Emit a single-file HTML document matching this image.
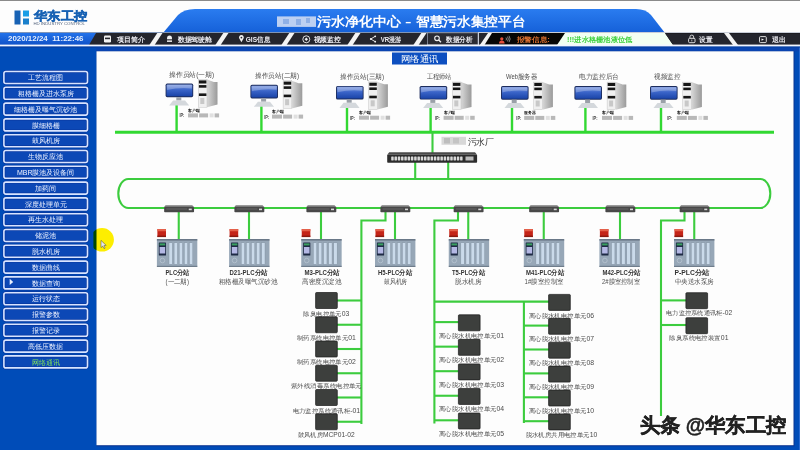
<!DOCTYPE html>
<html><head><meta charset="utf-8">
<style>
*{margin:0;padding:0}
html,body{width:800px;height:450px;overflow:hidden;background:#004cb8}
svg{position:absolute;left:0;top:0;display:block}
text{white-space:pre}
</style></head><body>
<svg width="800" height="450" viewBox="0 0 800 450">
<defs>
<linearGradient id="bang" x1="0" y1="0" x2="0" y2="1"><stop offset="0" stop-color="#2a7cf0"/><stop offset="1" stop-color="#1560d8"/></linearGradient>
<linearGradient id="dg" x1="0" y1="0" x2="0" y2="1"><stop offset="0" stop-color="#2272ea"/><stop offset="1" stop-color="#1052c8"/></linearGradient>
<linearGradient id="mon" x1="0" y1="0" x2="0" y2="1"><stop offset="0" stop-color="#7e9ae0"/><stop offset="0.45" stop-color="#3a64c8"/><stop offset="1" stop-color="#1a44a8"/></linearGradient>
<linearGradient id="tside" x1="0" y1="0" x2="1" y2="0"><stop offset="0" stop-color="#d8d8d8"/><stop offset="1" stop-color="#9a9a9a"/></linearGradient>
<filter id="bl" x="-20%" y="-50%" width="140%" height="200%"><feGaussianBlur stdDeviation="1"/></filter>
<filter id="bl3" x="-50%" y="-50%" width="200%" height="200%"><feGaussianBlur stdDeviation="0.5"/></filter>
<filter id="bl2" x="-20%" y="-50%" width="140%" height="200%"><feGaussianBlur stdDeviation="1.2"/></filter>
</defs>
<rect x="0" y="0" width="800" height="33" fill="#fdfdfd"/><rect x="0" y="0" width="800" height="1" fill="#8a8a8a"/>
<rect x="14.5" y="10.5" width="6" height="14" fill="#1862b4"/><rect x="23" y="10.5" width="6" height="6" fill="#1a9ee6"/><rect x="23" y="18.5" width="6" height="6" fill="#1a80cc"/>
<text x="34.00" y="19.60" font-size="12" fill="#1862b4" font-weight="bold" font-family='"Liberation Sans",sans-serif' textLength="53.00" lengthAdjust="spacingAndGlyphs" stroke="#1862b4" stroke-width="0.5">华东工控</text>
<text x="33.50" y="24.60" font-size="3.6" fill="#50607a" font-family='"Liberation Sans",sans-serif' textLength="51.50" lengthAdjust="spacingAndGlyphs">HD INDUSTRY CONTROL</text>
<path d="M163,33 L178,15 Q184,9 195,9 L636,9 Q646,9 651,15 L665,33 Z" fill="url(#bang)"/>
<rect x="277" y="16.4" width="39" height="10.5" fill="#bcd0f2" filter="url(#bl3)"/><g fill="#8fb0e6" filter="url(#bl3)"><rect x="283" y="19" width="6" height="5"/><rect x="296" y="19" width="5" height="6"/><rect x="306" y="18" width="4" height="5"/></g>
<text x="316.90" y="26.20" font-size="13" fill="#fff" font-weight="bold" font-family='"Liberation Sans",sans-serif' textLength="84.00" lengthAdjust="spacingAndGlyphs">污水净化中心</text>
<text x="405.50" y="26.00" font-size="13" fill="#fff" font-weight="bold" font-family='"Liberation Sans",sans-serif' textLength="5.50" lengthAdjust="spacingAndGlyphs">–</text>
<text x="415.90" y="26.20" font-size="13" fill="#fff" font-weight="bold" font-family='"Liberation Sans",sans-serif' textLength="109.50" lengthAdjust="spacingAndGlyphs">智慧污水集控平台</text>
<rect x="0" y="32" width="800" height="1" fill="#7f95b8"/>
<rect x="0" y="33" width="800" height="12" fill="#24252d"/>
<polygon points="0,33 96,33 89,45 0,45" fill="url(#dg)"/>
<g fill="#f4f4f4">
<polygon points="157.3,33 162.5,33 154.6,45 149.4,45"/><polygon points="223.3,33 228.5,33 220.6,45 215.4,45"/>
<polygon points="289.3,33 294.5,33 286.6,45 281.4,45"/><polygon points="355.3,33 360.5,33 352.6,45 347.4,45"/>
<polygon points="421.3,33 426.5,33 418.6,45 413.4,45"/></g>
<rect x="427.5" y="32.8" width="50.5" height="12" fill="#2a2b33" stroke="#8f96a6" stroke-width="0.8"/>
<rect x="478.5" y="32.5" width="330" height="12.6" fill="#060606" stroke="#c8cdd8" stroke-width="1"/>
<polygon points="479,33 488,33 479.8,45 479,45" fill="#26272e"/><polygon points="488,33 492,33 484.5,45 479.8,45" fill="#f4f4f4"/>
<polygon points="565,33 665,33 673,45 557,45" fill="#f2fff2"/>
<polygon points="665,33.2 800,33.2 800,44.8 673,44.8" fill="#24252d"/>
<polygon points="724,33 729,33 738,45 733,45" fill="#f4f4f4"/>
<rect x="0" y="44.6" width="800" height="2" fill="#f2f6ff"/>
<rect x="0" y="46.6" width="800" height="1" fill="#0a3a9a"/>
<text x="8.00" y="41.30" font-size="8" fill="#e6f0ff" font-weight="bold" font-family='"Liberation Sans",sans-serif' textLength="75.50" lengthAdjust="spacingAndGlyphs">2020/12/24  11:22:46</text>
<text x="116.50" y="41.60" font-size="7" fill="#ececf2" font-weight="bold" font-family='"Liberation Sans",sans-serif' textLength="28.00" lengthAdjust="spacingAndGlyphs">项目简介</text>
<text x="177.60" y="41.60" font-size="7" fill="#ececf2" font-weight="bold" font-family='"Liberation Sans",sans-serif' textLength="34.60" lengthAdjust="spacingAndGlyphs">数据驾驶舱</text>
<text x="245.80" y="41.60" font-size="7" fill="#ececf2" font-weight="bold" font-family='"Liberation Sans",sans-serif' textLength="24.30" lengthAdjust="spacingAndGlyphs">GIS信息</text>
<text x="313.60" y="41.60" font-size="7" fill="#ececf2" font-weight="bold" font-family='"Liberation Sans",sans-serif' textLength="27.20" lengthAdjust="spacingAndGlyphs">视频监控</text>
<text x="380.70" y="41.60" font-size="7" fill="#ececf2" font-weight="bold" font-family='"Liberation Sans",sans-serif' textLength="20.70" lengthAdjust="spacingAndGlyphs">VR漫游</text>
<text x="446.00" y="41.60" font-size="7" fill="#ececf2" font-weight="bold" font-family='"Liberation Sans",sans-serif' textLength="26.40" lengthAdjust="spacingAndGlyphs">数据分析</text>
<text x="516.50" y="41.60" font-size="7" fill="#d86e30" font-weight="bold" font-family='"Liberation Sans",sans-serif' textLength="33.30" lengthAdjust="spacingAndGlyphs">报警信息:</text>
<text x="567.00" y="41.60" font-size="7" fill="#3ed23e" font-weight="bold" font-family='"Liberation Sans",sans-serif' textLength="65.50" lengthAdjust="spacingAndGlyphs">!!!进水格栅池液位低</text>
<text x="699.20" y="41.60" font-size="7" fill="#ececf2" font-weight="bold" font-family='"Liberation Sans",sans-serif' textLength="13.30" lengthAdjust="spacingAndGlyphs">设置</text>
<text x="772.00" y="41.60" font-size="7" fill="#ececf2" font-weight="bold" font-family='"Liberation Sans",sans-serif' textLength="13.80" lengthAdjust="spacingAndGlyphs">退出</text>
<g fill="#f2f2f2">
<rect x="104" y="35.5" width="7" height="7" rx="1.2"/><rect x="105" y="37.6" width="5" height="1.6" fill="#24252d"/>
<path d="M167,42 L167,38.5 Q167,35.4 169.5,35.4 Q172,35.4 172,38.5 L172,42 Z"/><rect x="167" y="39" width="5" height="0.7" fill="#24252d"/><rect x="167" y="40.6" width="5" height="0.5" fill="#24252d"/>
<path d="M241.4,42.2 L239.3,38.6 A2.4,2.4 0 1 1 243.5,38.6 Z"/><circle cx="241.4" cy="37.6" r="0.9" fill="#24252d"/>
<circle cx="306.3" cy="39.3" r="3.5" fill="none" stroke="#f2f2f2" stroke-width="0.9"/><path d="M306.3,37.6 L308,39.3 L306.3,41 L304.6,39.3 Z"/>
<polyline points="375.2,36.3 370.8,39 375.2,41.7" fill="none" stroke="#f2f2f2" stroke-width="0.9"/><circle cx="375.2" cy="36.3" r="0.9"/><circle cx="370.8" cy="39" r="0.9"/><circle cx="375.2" cy="41.7" r="0.9"/>
<circle cx="437" cy="38.3" r="2.3" fill="none" stroke="#f2f2f2" stroke-width="1.1"/><line x1="438.7" y1="40" x2="441" y2="42.3" stroke="#f2f2f2" stroke-width="1.3"/>
<rect x="688.6" y="38.3" width="6.4" height="4.4" rx="1" fill="none" stroke="#f2f2f2" stroke-width="0.9"/><path d="M689.9,38.3 L689.9,37 A1.9,1.9 0 0 1 693.7,37 L693.7,38.3" fill="none" stroke="#f2f2f2" stroke-width="0.8"/><rect x="691.5" y="39.6" width="0.7" height="1.8"/>
<rect x="759.5" y="36.6" width="6.8" height="6" rx="1" fill="none" stroke="#f2f2f2" stroke-width="0.9"/><path d="M761.5,38.4 L764,39.6 L761.5,40.8 Z"/>
</g>
<circle cx="501.8" cy="38.8" r="1.6" fill="#e4503c"/><path d="M499,43.5 Q499,40.6 501.8,40.6 Q504.6,40.6 504.6,43.5 Z" fill="#e4503c"/>
<g fill="none" stroke="#d8d8d8" stroke-width="0.6"><path d="M506,37.6 Q507,39 506,40.4"/><path d="M507.5,36.6 Q509.2,39 507.5,41.4"/><path d="M509,35.8 Q511.3,39 509,42.2"/></g>
<rect x="3.9" y="71.50" width="83.6" height="12" rx="2" fill="#0c48b6" stroke="#0838a0" stroke-width="3"/>
<rect x="3.9" y="71.50" width="83.6" height="12" rx="2" fill="none" stroke="#d8e4ff" stroke-width="1.6"/>
<text x="28.20" y="80.10" font-size="7" fill="#eef2ff" font-family='"Liberation Sans",sans-serif' textLength="35.00" lengthAdjust="spacingAndGlyphs">工艺流程图</text>
<rect x="3.9" y="87.30" width="83.6" height="12" rx="2" fill="#0c48b6" stroke="#0838a0" stroke-width="3"/>
<rect x="3.9" y="87.30" width="83.6" height="12" rx="2" fill="none" stroke="#d8e4ff" stroke-width="1.6"/>
<text x="17.70" y="95.90" font-size="7" fill="#eef2ff" font-family='"Liberation Sans",sans-serif' textLength="56.00" lengthAdjust="spacingAndGlyphs">粗格栅及进水泵房</text>
<rect x="3.9" y="103.10" width="83.6" height="12" rx="2" fill="#0c48b6" stroke="#0838a0" stroke-width="3"/>
<rect x="3.9" y="103.10" width="83.6" height="12" rx="2" fill="none" stroke="#d8e4ff" stroke-width="1.6"/>
<text x="14.20" y="111.70" font-size="7" fill="#eef2ff" font-family='"Liberation Sans",sans-serif' textLength="63.00" lengthAdjust="spacingAndGlyphs">细格栅及曝气沉砂池</text>
<rect x="3.9" y="118.90" width="83.6" height="12" rx="2" fill="#0c48b6" stroke="#0838a0" stroke-width="3"/>
<rect x="3.9" y="118.90" width="83.6" height="12" rx="2" fill="none" stroke="#d8e4ff" stroke-width="1.6"/>
<text x="31.70" y="127.50" font-size="7" fill="#eef2ff" font-family='"Liberation Sans",sans-serif' textLength="28.00" lengthAdjust="spacingAndGlyphs">膜细格栅</text>
<rect x="3.9" y="134.70" width="83.6" height="12" rx="2" fill="#0c48b6" stroke="#0838a0" stroke-width="3"/>
<rect x="3.9" y="134.70" width="83.6" height="12" rx="2" fill="none" stroke="#d8e4ff" stroke-width="1.6"/>
<text x="31.70" y="143.30" font-size="7" fill="#eef2ff" font-family='"Liberation Sans",sans-serif' textLength="28.00" lengthAdjust="spacingAndGlyphs">鼓风机房</text>
<rect x="3.9" y="150.50" width="83.6" height="12" rx="2" fill="#0c48b6" stroke="#0838a0" stroke-width="3"/>
<rect x="3.9" y="150.50" width="83.6" height="12" rx="2" fill="none" stroke="#d8e4ff" stroke-width="1.6"/>
<text x="28.20" y="159.10" font-size="7" fill="#eef2ff" font-family='"Liberation Sans",sans-serif' textLength="35.00" lengthAdjust="spacingAndGlyphs">生物反应池</text>
<rect x="3.9" y="166.30" width="83.6" height="12" rx="2" fill="#0c48b6" stroke="#0838a0" stroke-width="3"/>
<rect x="3.9" y="166.30" width="83.6" height="12" rx="2" fill="none" stroke="#d8e4ff" stroke-width="1.6"/>
<text x="16.92" y="174.90" font-size="7" fill="#eef2ff" font-family='"Liberation Sans",sans-serif' textLength="57.56" lengthAdjust="spacingAndGlyphs">MBR膜池及设备间</text>
<rect x="3.9" y="182.10" width="83.6" height="12" rx="2" fill="#0c48b6" stroke="#0838a0" stroke-width="3"/>
<rect x="3.9" y="182.10" width="83.6" height="12" rx="2" fill="none" stroke="#d8e4ff" stroke-width="1.6"/>
<text x="35.20" y="190.70" font-size="7" fill="#eef2ff" font-family='"Liberation Sans",sans-serif' textLength="21.00" lengthAdjust="spacingAndGlyphs">加药间</text>
<rect x="3.9" y="197.90" width="83.6" height="12" rx="2" fill="#0c48b6" stroke="#0838a0" stroke-width="3"/>
<rect x="3.9" y="197.90" width="83.6" height="12" rx="2" fill="none" stroke="#d8e4ff" stroke-width="1.6"/>
<text x="24.70" y="206.50" font-size="7" fill="#eef2ff" font-family='"Liberation Sans",sans-serif' textLength="42.00" lengthAdjust="spacingAndGlyphs">深度处理单元</text>
<rect x="3.9" y="213.70" width="83.6" height="12" rx="2" fill="#0c48b6" stroke="#0838a0" stroke-width="3"/>
<rect x="3.9" y="213.70" width="83.6" height="12" rx="2" fill="none" stroke="#d8e4ff" stroke-width="1.6"/>
<text x="28.20" y="222.30" font-size="7" fill="#eef2ff" font-family='"Liberation Sans",sans-serif' textLength="35.00" lengthAdjust="spacingAndGlyphs">再生水处理</text>
<rect x="3.9" y="229.50" width="83.6" height="12" rx="2" fill="#0c48b6" stroke="#0838a0" stroke-width="3"/>
<rect x="3.9" y="229.50" width="83.6" height="12" rx="2" fill="none" stroke="#d8e4ff" stroke-width="1.6"/>
<text x="35.20" y="238.10" font-size="7" fill="#eef2ff" font-family='"Liberation Sans",sans-serif' textLength="21.00" lengthAdjust="spacingAndGlyphs">储泥池</text>
<rect x="3.9" y="245.30" width="83.6" height="12" rx="2" fill="#0c48b6" stroke="#0838a0" stroke-width="3"/>
<rect x="3.9" y="245.30" width="83.6" height="12" rx="2" fill="none" stroke="#d8e4ff" stroke-width="1.6"/>
<text x="31.70" y="253.90" font-size="7" fill="#eef2ff" font-family='"Liberation Sans",sans-serif' textLength="28.00" lengthAdjust="spacingAndGlyphs">脱水机房</text>
<rect x="3.9" y="261.10" width="83.6" height="12" rx="2" fill="#0c48b6" stroke="#0838a0" stroke-width="3"/>
<rect x="3.9" y="261.10" width="83.6" height="12" rx="2" fill="none" stroke="#d8e4ff" stroke-width="1.6"/>
<text x="31.70" y="269.70" font-size="7" fill="#eef2ff" font-family='"Liberation Sans",sans-serif' textLength="28.00" lengthAdjust="spacingAndGlyphs">数据曲线</text>
<rect x="3.9" y="276.90" width="83.6" height="12" rx="2" fill="#0c48b6" stroke="#0838a0" stroke-width="3"/>
<rect x="3.9" y="276.90" width="83.6" height="12" rx="2" fill="none" stroke="#d8e4ff" stroke-width="1.6"/>
<text x="31.70" y="285.50" font-size="7" fill="#eef2ff" font-family='"Liberation Sans",sans-serif' textLength="28.00" lengthAdjust="spacingAndGlyphs">数据查询</text>
<rect x="3.9" y="292.70" width="83.6" height="12" rx="2" fill="#0c48b6" stroke="#0838a0" stroke-width="3"/>
<rect x="3.9" y="292.70" width="83.6" height="12" rx="2" fill="none" stroke="#d8e4ff" stroke-width="1.6"/>
<text x="31.70" y="301.30" font-size="7" fill="#eef2ff" font-family='"Liberation Sans",sans-serif' textLength="28.00" lengthAdjust="spacingAndGlyphs">运行状态</text>
<rect x="3.9" y="308.50" width="83.6" height="12" rx="2" fill="#0c48b6" stroke="#0838a0" stroke-width="3"/>
<rect x="3.9" y="308.50" width="83.6" height="12" rx="2" fill="none" stroke="#d8e4ff" stroke-width="1.6"/>
<text x="31.70" y="317.10" font-size="7" fill="#eef2ff" font-family='"Liberation Sans",sans-serif' textLength="28.00" lengthAdjust="spacingAndGlyphs">报警参数</text>
<rect x="3.9" y="324.30" width="83.6" height="12" rx="2" fill="#0c48b6" stroke="#0838a0" stroke-width="3"/>
<rect x="3.9" y="324.30" width="83.6" height="12" rx="2" fill="none" stroke="#d8e4ff" stroke-width="1.6"/>
<text x="31.70" y="332.90" font-size="7" fill="#eef2ff" font-family='"Liberation Sans",sans-serif' textLength="28.00" lengthAdjust="spacingAndGlyphs">报警记录</text>
<rect x="3.9" y="340.10" width="83.6" height="12" rx="2" fill="#0c48b6" stroke="#0838a0" stroke-width="3"/>
<rect x="3.9" y="340.10" width="83.6" height="12" rx="2" fill="none" stroke="#d8e4ff" stroke-width="1.6"/>
<text x="28.20" y="348.70" font-size="7" fill="#eef2ff" font-family='"Liberation Sans",sans-serif' textLength="35.00" lengthAdjust="spacingAndGlyphs">高低压数据</text>
<rect x="3.9" y="355.90" width="83.6" height="12" rx="2" fill="#0c48b6" stroke="#0838a0" stroke-width="3"/>
<rect x="3.9" y="355.90" width="83.6" height="12" rx="2" fill="none" stroke="#d8e4ff" stroke-width="1.6"/>
<text x="31.70" y="364.50" font-size="7" fill="#80e05a" font-family='"Liberation Sans",sans-serif' textLength="28.00" lengthAdjust="spacingAndGlyphs">网络通讯</text>
<polygon points="9.7,278.8 13.2,281.9 9.7,285" fill="#e8f0ff"/>
<rect x="96" y="47.6" width="704" height="3.8" fill="#0a44b0"/>
<rect x="96.5" y="51.3" width="698" height="395" fill="#0a3490"/>
<rect x="799" y="47.6" width="1" height="402.4" fill="#2a6ad0"/>
<rect x="96.5" y="51.3" width="697" height="393.9" fill="#fdfdfd"/>
<rect x="392" y="52.5" width="55" height="12" fill="#0d4fc0"/>
<text x="400.75" y="62.00" font-size="9.2" fill="#fff" font-family='"Liberation Sans",sans-serif' textLength="37.50" lengthAdjust="spacingAndGlyphs">网络通讯</text>
<g stroke="#32d832" stroke-width="3" fill="none">
<line x1="115" y1="132.2" x2="774" y2="132.2"/>
<line x1="176.6" y1="105" x2="176.6" y2="132" stroke-width="2.4"/>
<line x1="261.4" y1="105" x2="261.4" y2="132" stroke-width="2.4"/>
<line x1="347" y1="105" x2="347" y2="132" stroke-width="2.4"/>
<line x1="430.6" y1="105" x2="430.6" y2="132" stroke-width="2.4"/>
<line x1="512" y1="105" x2="512" y2="132" stroke-width="2.4"/>
<line x1="585.4" y1="105" x2="585.4" y2="132" stroke-width="2.4"/>
<line x1="661" y1="105" x2="661" y2="132" stroke-width="2.4"/>
</g>
<g stroke="#3ccc3e" stroke-width="2.1" fill="none">
<line x1="432.5" y1="132" x2="432.5" y2="153"/>
<line x1="415.2" y1="162" x2="415.2" y2="179"/><line x1="448.2" y1="162" x2="448.2" y2="179"/>
<path d="M128.3,179 L760.3,179 A10,14.5 0 0 1 760.3,208 L128.3,208 A10,14.5 0 0 1 128.3,179 Z" stroke-width="2.1"/>
<line x1="178.75" y1="210" x2="178.75" y2="239"/>
<line x1="249" y1="210" x2="249" y2="239"/>
<line x1="321" y1="210" x2="321" y2="239"/>
<line x1="395" y1="210" x2="395" y2="239"/>
<line x1="468.25" y1="210" x2="468.25" y2="239"/>
<line x1="543.75" y1="210" x2="543.75" y2="239"/>
<line x1="620" y1="210" x2="620" y2="239"/>
<line x1="694.25" y1="210" x2="694.25" y2="239"/>
<polyline points="385.5,210 385.5,220.5 361.4,220.5 361.4,424"/>
<polyline points="458,210 458,220.5 434.4,220.5 434.4,423.5"/>
<polyline points="684.5,210 684.5,220.5 661,220.5 661,416"/>
<polyline points="434.4,301.6 549,301.6"/><line x1="523.9" y1="301.6" x2="523.9" y2="423"/>
<line x1="337" y1="300.50" x2="361.4" y2="300.50"/>
<line x1="337" y1="324.75" x2="361.4" y2="324.75"/>
<line x1="337" y1="349.00" x2="361.4" y2="349.00"/>
<line x1="337" y1="373.25" x2="361.4" y2="373.25"/>
<line x1="337" y1="397.50" x2="361.4" y2="397.50"/>
<line x1="337" y1="421.75" x2="361.4" y2="421.75"/>
<line x1="434.4" y1="322.10" x2="458.5" y2="322.10"/>
<line x1="434.4" y1="346.65" x2="458.5" y2="346.65"/>
<line x1="434.4" y1="371.20" x2="458.5" y2="371.20"/>
<line x1="434.4" y1="395.75" x2="458.5" y2="395.75"/>
<line x1="434.4" y1="420.30" x2="458.5" y2="420.30"/>
<line x1="523.9" y1="325.60" x2="549" y2="325.60"/>
<line x1="523.9" y1="349.50" x2="549" y2="349.50"/>
<line x1="523.9" y1="373.40" x2="549" y2="373.40"/>
<line x1="523.9" y1="397.30" x2="549" y2="397.30"/>
<line x1="523.9" y1="421.20" x2="549" y2="421.20"/>
<line x1="661" y1="300.4" x2="686" y2="300.4"/><line x1="661" y1="325" x2="686" y2="325"/>
</g>
<text x="169.00" y="76.60" font-size="6.5" fill="#4a4a4a" font-family='"Liberation Sans",sans-serif' textLength="45.00" lengthAdjust="spacingAndGlyphs">操作员站(一期)</text>
<g transform="translate(0,0)">
<rect x="165.6" y="83.6" width="27.6" height="13.6" rx="1.6" fill="#1c2c5c"/>
<rect x="166.5" y="84.5" width="25.8" height="11.8" rx="1" fill="url(#mon)"/>
<path d="M167.1,90 Q179.6,87 191.79999999999998,88.5 L191.79999999999998,85 L167.1,85 Z" fill="#fff" opacity="0.25"/>
<rect x="176.29999999999998" y="97.2" width="5" height="3.3" fill="#9aa0a8"/>
<polygon points="173.1,100.5 185.1,100.5 189.2,105.6 169.1,105.6" fill="#d4d8dc"/>
<polygon points="206.99999999999997,79.6 213.79999999999998,82 217.49999999999997,82 217.49999999999997,104.5 206.99999999999997,107.2" fill="url(#tside)"/>
<rect x="198.29999999999998" y="79.6" width="8.7" height="27.6" fill="#f0f0f0" stroke="#b8b8b8" stroke-width="0.4"/>
<rect x="198.89999999999998" y="80.4" width="7.5" height="3.1" fill="#161616"/>
<rect x="198.89999999999998" y="85.1" width="7.5" height="2.6" fill="#161616"/>
<rect x="198.89999999999998" y="93.4" width="7.5" height="2.6" fill="#161616"/>
<rect x="200.29999999999998" y="98" width="4" height="6" fill="#c8c8c8"/>
<text x="188.20" y="111.80" font-size="3.6" fill="#111" font-weight="bold" font-family='"Liberation Sans",sans-serif' textLength="11.50" lengthAdjust="spacingAndGlyphs">客户端</text>
<text x="179.40" y="117.40" font-size="4.6" fill="#444" font-weight="bold" font-family='"Liberation Sans",sans-serif' textLength="5.00" lengthAdjust="spacingAndGlyphs">IP:</text>
<g filter="url(#bl3)" fill="#b8b8b8"><rect x="188.0" y="113.4" width="10" height="4"/><rect x="199.1" y="113.4" width="9" height="4"/><rect x="209.6" y="113.4" width="4" height="4" fill="#e0e0e0"/><rect x="214.6" y="113.4" width="4.5" height="4"/></g>
</g>
<text x="255.00" y="77.80" font-size="6.5" fill="#4a4a4a" font-family='"Liberation Sans",sans-serif' textLength="44.00" lengthAdjust="spacingAndGlyphs">操作员站(二期)</text>
<g transform="translate(0,1.2)">
<rect x="250.39999999999998" y="83.6" width="27.6" height="13.6" rx="1.6" fill="#1c2c5c"/>
<rect x="251.29999999999998" y="84.5" width="25.8" height="11.8" rx="1" fill="url(#mon)"/>
<path d="M251.89999999999998,90 Q264.4,87 276.59999999999997,88.5 L276.59999999999997,85 L251.89999999999998,85 Z" fill="#fff" opacity="0.25"/>
<rect x="261.09999999999997" y="97.2" width="5" height="3.3" fill="#9aa0a8"/>
<polygon points="257.9,100.5 269.9,100.5 274.0,105.6 253.89999999999998,105.6" fill="#d4d8dc"/>
<polygon points="291.79999999999995,79.6 298.59999999999997,82 302.29999999999995,82 302.29999999999995,104.5 291.79999999999995,107.2" fill="url(#tside)"/>
<rect x="283.09999999999997" y="79.6" width="8.7" height="27.6" fill="#f0f0f0" stroke="#b8b8b8" stroke-width="0.4"/>
<rect x="283.7" y="80.4" width="7.5" height="3.1" fill="#161616"/>
<rect x="283.7" y="85.1" width="7.5" height="2.6" fill="#161616"/>
<rect x="283.7" y="93.4" width="7.5" height="2.6" fill="#161616"/>
<rect x="285.09999999999997" y="98" width="4" height="6" fill="#c8c8c8"/>
<text x="272.20" y="111.80" font-size="3.6" fill="#111" font-weight="bold" font-family='"Liberation Sans",sans-serif' textLength="11.50" lengthAdjust="spacingAndGlyphs">客户端</text>
<text x="264.20" y="117.40" font-size="4.6" fill="#444" font-weight="bold" font-family='"Liberation Sans",sans-serif' textLength="5.00" lengthAdjust="spacingAndGlyphs">IP:</text>
<g filter="url(#bl3)" fill="#b8b8b8"><rect x="272.0" y="113.4" width="10" height="4"/><rect x="283.1" y="113.4" width="9" height="4"/><rect x="293.6" y="113.4" width="4" height="4" fill="#e0e0e0"/><rect x="298.6" y="113.4" width="4.5" height="4"/></g>
</g>
<text x="340.00" y="78.90" font-size="6.5" fill="#4a4a4a" font-family='"Liberation Sans",sans-serif' textLength="44.00" lengthAdjust="spacingAndGlyphs">操作员站(三期)</text>
<g transform="translate(0,2.3)">
<rect x="336" y="83.6" width="27.6" height="13.6" rx="1.6" fill="#1c2c5c"/>
<rect x="336.9" y="84.5" width="25.8" height="11.8" rx="1" fill="url(#mon)"/>
<path d="M337.5,90 Q350,87 362.2,88.5 L362.2,85 L337.5,85 Z" fill="#fff" opacity="0.25"/>
<rect x="346.7" y="97.2" width="5" height="3.3" fill="#9aa0a8"/>
<polygon points="343.5,100.5 355.5,100.5 359.6,105.6 339.5,105.6" fill="#d4d8dc"/>
<polygon points="377.4,79.6 384.2,82 387.9,82 387.9,104.5 377.4,107.2" fill="url(#tside)"/>
<rect x="368.7" y="79.6" width="8.7" height="27.6" fill="#f0f0f0" stroke="#b8b8b8" stroke-width="0.4"/>
<rect x="369.3" y="80.4" width="7.5" height="3.1" fill="#161616"/>
<rect x="369.3" y="85.1" width="7.5" height="2.6" fill="#161616"/>
<rect x="369.3" y="93.4" width="7.5" height="2.6" fill="#161616"/>
<rect x="370.7" y="98" width="4" height="6" fill="#c8c8c8"/>
<text x="359.20" y="111.80" font-size="3.6" fill="#111" font-weight="bold" font-family='"Liberation Sans",sans-serif' textLength="11.50" lengthAdjust="spacingAndGlyphs">客户端</text>
<text x="350.00" y="117.40" font-size="4.6" fill="#444" font-weight="bold" font-family='"Liberation Sans",sans-serif' textLength="5.00" lengthAdjust="spacingAndGlyphs">IP:</text>
<g filter="url(#bl3)" fill="#b8b8b8"><rect x="359" y="113.4" width="10" height="4"/><rect x="370.1" y="113.4" width="9" height="4"/><rect x="380.6" y="113.4" width="4" height="4" fill="#e0e0e0"/><rect x="385.6" y="113.4" width="4.5" height="4"/></g>
</g>
<text x="426.50" y="79.00" font-size="6.5" fill="#4a4a4a" font-family='"Liberation Sans",sans-serif' textLength="24.50" lengthAdjust="spacingAndGlyphs">工程师站</text>
<g transform="translate(0,2.4)">
<rect x="419.6" y="83.6" width="27.6" height="13.6" rx="1.6" fill="#1c2c5c"/>
<rect x="420.5" y="84.5" width="25.8" height="11.8" rx="1" fill="url(#mon)"/>
<path d="M421.1,90 Q433.6,87 445.8,88.5 L445.8,85 L421.1,85 Z" fill="#fff" opacity="0.25"/>
<rect x="430.3" y="97.2" width="5" height="3.3" fill="#9aa0a8"/>
<polygon points="427.1,100.5 439.1,100.5 443.20000000000005,105.6 423.1,105.6" fill="#d4d8dc"/>
<polygon points="461.0,79.6 467.8,82 471.5,82 471.5,104.5 461.0,107.2" fill="url(#tside)"/>
<rect x="452.3" y="79.6" width="8.7" height="27.6" fill="#f0f0f0" stroke="#b8b8b8" stroke-width="0.4"/>
<rect x="452.90000000000003" y="80.4" width="7.5" height="3.1" fill="#161616"/>
<rect x="452.90000000000003" y="85.1" width="7.5" height="2.6" fill="#161616"/>
<rect x="452.90000000000003" y="93.4" width="7.5" height="2.6" fill="#161616"/>
<rect x="454.3" y="98" width="4" height="6" fill="#c8c8c8"/>
<text x="443.80" y="111.80" font-size="3.6" fill="#111" font-weight="bold" font-family='"Liberation Sans",sans-serif' textLength="11.50" lengthAdjust="spacingAndGlyphs">客户端</text>
<text x="434.90" y="117.40" font-size="4.6" fill="#444" font-weight="bold" font-family='"Liberation Sans",sans-serif' textLength="5.00" lengthAdjust="spacingAndGlyphs">IP:</text>
<g filter="url(#bl3)" fill="#b8b8b8"><rect x="443.6" y="113.4" width="10" height="4"/><rect x="454.70000000000005" y="113.4" width="9" height="4"/><rect x="465.20000000000005" y="113.4" width="4" height="4" fill="#e0e0e0"/><rect x="470.20000000000005" y="113.4" width="4.5" height="4"/></g>
</g>
<text x="506.00" y="79.10" font-size="6.5" fill="#4a4a4a" font-family='"Liberation Sans",sans-serif' textLength="31.00" lengthAdjust="spacingAndGlyphs">Web服务器</text>
<g transform="translate(0,2.5)">
<rect x="501" y="83.6" width="27.6" height="13.6" rx="1.6" fill="#1c2c5c"/>
<rect x="501.9" y="84.5" width="25.8" height="11.8" rx="1" fill="url(#mon)"/>
<path d="M502.5,90 Q515,87 527.2,88.5 L527.2,85 L502.5,85 Z" fill="#fff" opacity="0.25"/>
<rect x="511.7" y="97.2" width="5" height="3.3" fill="#9aa0a8"/>
<polygon points="508.5,100.5 520.5,100.5 524.6,105.6 504.5,105.6" fill="#d4d8dc"/>
<polygon points="542.4000000000001,79.6 549.2,82 552.9000000000001,82 552.9000000000001,104.5 542.4000000000001,107.2" fill="url(#tside)"/>
<rect x="533.7" y="79.6" width="8.7" height="27.6" fill="#f0f0f0" stroke="#b8b8b8" stroke-width="0.4"/>
<rect x="534.3000000000001" y="80.4" width="7.5" height="3.1" fill="#161616"/>
<rect x="534.3000000000001" y="85.1" width="7.5" height="2.6" fill="#161616"/>
<rect x="534.3000000000001" y="93.4" width="7.5" height="2.6" fill="#161616"/>
<rect x="535.7" y="98" width="4" height="6" fill="#c8c8c8"/>
<text x="524.40" y="111.80" font-size="3.6" fill="#111" font-weight="bold" font-family='"Liberation Sans",sans-serif' textLength="11.50" lengthAdjust="spacingAndGlyphs">服务器</text>
<text x="516.30" y="117.40" font-size="4.6" fill="#444" font-weight="bold" font-family='"Liberation Sans",sans-serif' textLength="5.00" lengthAdjust="spacingAndGlyphs">IP:</text>
<g filter="url(#bl3)" fill="#b8b8b8"><rect x="524.2" y="113.4" width="10" height="4"/><rect x="535.3000000000001" y="113.4" width="9" height="4"/><rect x="545.8000000000001" y="113.4" width="4" height="4" fill="#e0e0e0"/><rect x="550.8000000000001" y="113.4" width="4.5" height="4"/></g>
</g>
<text x="579.00" y="79.10" font-size="6.5" fill="#4a4a4a" font-family='"Liberation Sans",sans-serif' textLength="40.00" lengthAdjust="spacingAndGlyphs">电力监控后台</text>
<g transform="translate(0,2.5)">
<rect x="574.4" y="83.6" width="27.6" height="13.6" rx="1.6" fill="#1c2c5c"/>
<rect x="575.3" y="84.5" width="25.8" height="11.8" rx="1" fill="url(#mon)"/>
<path d="M575.9,90 Q588.4,87 600.6,88.5 L600.6,85 L575.9,85 Z" fill="#fff" opacity="0.25"/>
<rect x="585.1" y="97.2" width="5" height="3.3" fill="#9aa0a8"/>
<polygon points="581.9,100.5 593.9,100.5 598.0,105.6 577.9,105.6" fill="#d4d8dc"/>
<polygon points="615.8000000000001,79.6 622.6,82 626.3000000000001,82 626.3000000000001,104.5 615.8000000000001,107.2" fill="url(#tside)"/>
<rect x="607.1" y="79.6" width="8.7" height="27.6" fill="#f0f0f0" stroke="#b8b8b8" stroke-width="0.4"/>
<rect x="607.7" y="80.4" width="7.5" height="3.1" fill="#161616"/>
<rect x="607.7" y="85.1" width="7.5" height="2.6" fill="#161616"/>
<rect x="607.7" y="93.4" width="7.5" height="2.6" fill="#161616"/>
<rect x="609.1" y="98" width="4" height="6" fill="#c8c8c8"/>
<text x="602.20" y="111.80" font-size="3.6" fill="#111" font-weight="bold" font-family='"Liberation Sans",sans-serif' textLength="11.50" lengthAdjust="spacingAndGlyphs">客户端</text>
<text x="592.50" y="117.40" font-size="4.6" fill="#444" font-weight="bold" font-family='"Liberation Sans",sans-serif' textLength="5.00" lengthAdjust="spacingAndGlyphs">IP:</text>
<g filter="url(#bl3)" fill="#b8b8b8"><rect x="602.0" y="113.4" width="10" height="4"/><rect x="613.1" y="113.4" width="9" height="4"/><rect x="623.6" y="113.4" width="4" height="4" fill="#e0e0e0"/><rect x="628.6" y="113.4" width="4.5" height="4"/></g>
</g>
<text x="654.00" y="79.10" font-size="6.5" fill="#4a4a4a" font-family='"Liberation Sans",sans-serif' textLength="26.00" lengthAdjust="spacingAndGlyphs">视频监控</text>
<g transform="translate(0,2.5)">
<rect x="650" y="83.6" width="27.6" height="13.6" rx="1.6" fill="#1c2c5c"/>
<rect x="650.9" y="84.5" width="25.8" height="11.8" rx="1" fill="url(#mon)"/>
<path d="M651.5,90 Q664,87 676.2,88.5 L676.2,85 L651.5,85 Z" fill="#fff" opacity="0.25"/>
<rect x="660.7" y="97.2" width="5" height="3.3" fill="#9aa0a8"/>
<polygon points="657.5,100.5 669.5,100.5 673.6,105.6 653.5,105.6" fill="#d4d8dc"/>
<polygon points="691.4000000000001,79.6 698.2,82 701.9000000000001,82 701.9000000000001,104.5 691.4000000000001,107.2" fill="url(#tside)"/>
<rect x="682.7" y="79.6" width="8.7" height="27.6" fill="#f0f0f0" stroke="#b8b8b8" stroke-width="0.4"/>
<rect x="683.3000000000001" y="80.4" width="7.5" height="3.1" fill="#161616"/>
<rect x="683.3000000000001" y="85.1" width="7.5" height="2.6" fill="#161616"/>
<rect x="683.3000000000001" y="93.4" width="7.5" height="2.6" fill="#161616"/>
<rect x="684.7" y="98" width="4" height="6" fill="#c8c8c8"/>
<text x="677.00" y="111.80" font-size="3.6" fill="#111" font-weight="bold" font-family='"Liberation Sans",sans-serif' textLength="11.50" lengthAdjust="spacingAndGlyphs">客户端</text>
<text x="667.20" y="117.40" font-size="4.6" fill="#444" font-weight="bold" font-family='"Liberation Sans",sans-serif' textLength="5.00" lengthAdjust="spacingAndGlyphs">IP:</text>
<g filter="url(#bl3)" fill="#b8b8b8"><rect x="676.8" y="113.4" width="10" height="4"/><rect x="687.9" y="113.4" width="9" height="4"/><rect x="698.4" y="113.4" width="4" height="4" fill="#e0e0e0"/><rect x="703.4" y="113.4" width="4.5" height="4"/></g>
</g>
<polygon points="389.2,152.2 475,152.2 477.1,154.8 387.2,154.8" fill="#4a4a4a"/>
<rect x="387.2" y="154.8" width="89.9" height="7.9" rx="0.8" fill="#2c2c2c"/>
<rect x="391.20" y="156.5" width="2.5" height="4" rx="0.4" fill="#d8d8d8"/>
<rect x="394.48" y="156.5" width="2.5" height="4" rx="0.4" fill="#d8d8d8"/>
<rect x="397.76" y="156.5" width="2.5" height="4" rx="0.4" fill="#d8d8d8"/>
<rect x="401.04" y="156.5" width="2.5" height="4" rx="0.4" fill="#d8d8d8"/>
<rect x="404.32" y="156.5" width="2.5" height="4" rx="0.4" fill="#d8d8d8"/>
<rect x="407.60" y="156.5" width="2.5" height="4" rx="0.4" fill="#d8d8d8"/>
<rect x="410.88" y="156.5" width="2.5" height="4" rx="0.4" fill="#d8d8d8"/>
<rect x="414.16" y="156.5" width="2.5" height="4" rx="0.4" fill="#d8d8d8"/>
<rect x="417.44" y="156.5" width="2.5" height="4" rx="0.4" fill="#d8d8d8"/>
<rect x="420.72" y="156.5" width="2.5" height="4" rx="0.4" fill="#d8d8d8"/>
<rect x="424.00" y="156.5" width="2.5" height="4" rx="0.4" fill="#d8d8d8"/>
<rect x="427.28" y="156.5" width="2.5" height="4" rx="0.4" fill="#d8d8d8"/>
<rect x="430.56" y="156.5" width="2.5" height="4" rx="0.4" fill="#d8d8d8"/>
<rect x="433.84" y="156.5" width="2.5" height="4" rx="0.4" fill="#d8d8d8"/>
<rect x="437.12" y="156.5" width="2.5" height="4" rx="0.4" fill="#d8d8d8"/>
<rect x="440.40" y="156.5" width="2.5" height="4" rx="0.4" fill="#d8d8d8"/>
<rect x="443.68" y="156.5" width="2.5" height="4" rx="0.4" fill="#d8d8d8"/>
<rect x="446.96" y="156.5" width="2.5" height="4" rx="0.4" fill="#d8d8d8"/>
<rect x="450.24" y="156.5" width="2.5" height="4" rx="0.4" fill="#d8d8d8"/>
<rect x="453.52" y="156.5" width="2.5" height="4" rx="0.4" fill="#d8d8d8"/>
<rect x="456.80" y="156.5" width="2.5" height="4" rx="0.4" fill="#d8d8d8"/>
<rect x="460.08" y="156.5" width="2.5" height="4" rx="0.4" fill="#d8d8d8"/>
<rect x="465.5" y="156.5" width="8" height="4" fill="#bbb"/>
<g filter="url(#bl3)"><rect x="441.5" y="136.8" width="24.5" height="8" fill="#d8d8d8"/><rect x="444" y="138" width="6" height="5.5" fill="#bdbdbd"/><rect x="453" y="138" width="6" height="5.5" fill="#c4c4c4"/></g>
<text x="467.50" y="144.60" font-size="9" fill="#333" font-family='"Liberation Sans",sans-serif' textLength="26.50" lengthAdjust="spacingAndGlyphs">污水厂</text>
<polygon points="165.55,205.2 192.25,205.2 194.05,207 164.15,207" fill="#7a7a7a"/>
<rect x="164.15" y="207" width="29.9" height="5.2" rx="0.8" fill="#484848"/>
<rect x="166.25" y="208.3" width="21" height="1.4" fill="#5e5e5e"/><rect x="188.75" y="208.6" width="3" height="1.6" fill="#d8d8d8"/>
<polygon points="235.8,205.2 262.5,205.2 264.3,207 234.4,207" fill="#7a7a7a"/>
<rect x="234.4" y="207" width="29.9" height="5.2" rx="0.8" fill="#484848"/>
<rect x="236.5" y="208.3" width="21" height="1.4" fill="#5e5e5e"/><rect x="259" y="208.6" width="3" height="1.6" fill="#d8d8d8"/>
<polygon points="307.8,205.2 334.5,205.2 336.3,207 306.4,207" fill="#7a7a7a"/>
<rect x="306.4" y="207" width="29.9" height="5.2" rx="0.8" fill="#484848"/>
<rect x="308.5" y="208.3" width="21" height="1.4" fill="#5e5e5e"/><rect x="331" y="208.6" width="3" height="1.6" fill="#d8d8d8"/>
<polygon points="381.8,205.2 408.5,205.2 410.3,207 380.4,207" fill="#7a7a7a"/>
<rect x="380.4" y="207" width="29.9" height="5.2" rx="0.8" fill="#484848"/>
<rect x="382.5" y="208.3" width="21" height="1.4" fill="#5e5e5e"/><rect x="405" y="208.6" width="3" height="1.6" fill="#d8d8d8"/>
<polygon points="455.05,205.2 481.75,205.2 483.55,207 453.65,207" fill="#7a7a7a"/>
<rect x="453.65" y="207" width="29.9" height="5.2" rx="0.8" fill="#484848"/>
<rect x="455.75" y="208.3" width="21" height="1.4" fill="#5e5e5e"/><rect x="478.25" y="208.6" width="3" height="1.6" fill="#d8d8d8"/>
<polygon points="530.55,205.2 557.25,205.2 559.05,207 529.15,207" fill="#7a7a7a"/>
<rect x="529.15" y="207" width="29.9" height="5.2" rx="0.8" fill="#484848"/>
<rect x="531.25" y="208.3" width="21" height="1.4" fill="#5e5e5e"/><rect x="553.75" y="208.6" width="3" height="1.6" fill="#d8d8d8"/>
<polygon points="606.8,205.2 633.5,205.2 635.3,207 605.4,207" fill="#7a7a7a"/>
<rect x="605.4" y="207" width="29.9" height="5.2" rx="0.8" fill="#484848"/>
<rect x="607.5" y="208.3" width="21" height="1.4" fill="#5e5e5e"/><rect x="630" y="208.6" width="3" height="1.6" fill="#d8d8d8"/>
<polygon points="681.05,205.2 707.75,205.2 709.55,207 679.65,207" fill="#7a7a7a"/>
<rect x="679.65" y="207" width="29.9" height="5.2" rx="0.8" fill="#484848"/>
<rect x="681.75" y="208.3" width="21" height="1.4" fill="#5e5e5e"/><rect x="704.25" y="208.6" width="3" height="1.6" fill="#d8d8d8"/>
<rect x="157.4" y="228.9" width="8.6" height="8.2" rx="0.6" fill="#c42418"/><rect x="157.4" y="228.9" width="8.6" height="2.4" rx="0.6" fill="#e4604a"/><rect x="157.4" y="235.6" width="8.6" height="1.5" fill="#8a1a10"/>
<rect x="156.9" y="239" width="40.4" height="28" rx="0.8" fill="#97a7b7"/>
<rect x="156.9" y="239" width="40.4" height="1.6" fill="#6a7888"/><rect x="156.9" y="265.8" width="40.4" height="1.2" fill="#6f7d8c"/>
<rect x="158.8" y="242.4" width="7.2" height="13.2" rx="0.5" fill="#1e2a44"/><rect x="159.6" y="243.4" width="5.6" height="2" fill="#3aa060"/><rect x="159.6" y="247" width="5.6" height="6.5" fill="#b4b8e4"/>
<circle cx="162.4" cy="260.5" r="2.3" fill="none" stroke="#b8c4d0" stroke-width="0.8"/>
<rect x="169.00" y="242.8" width="3.4" height="21.5" fill="#cadaea" stroke="#7d8d9d" stroke-width="0.4"/>
<rect x="174.10" y="242.8" width="3.4" height="21.5" fill="#cadaea" stroke="#7d8d9d" stroke-width="0.4"/>
<rect x="179.20" y="242.8" width="3.4" height="21.5" fill="#cadaea" stroke="#7d8d9d" stroke-width="0.4"/>
<rect x="184.30" y="242.8" width="3.4" height="21.5" fill="#cadaea" stroke="#7d8d9d" stroke-width="0.4"/>
<rect x="189.40" y="242.8" width="3.4" height="21.5" fill="#cadaea" stroke="#7d8d9d" stroke-width="0.4"/>
<text x="165.50" y="275.20" font-size="6.5" fill="#333" font-weight="bold" font-family='"Liberation Sans",sans-serif' textLength="24.00" lengthAdjust="spacingAndGlyphs">PLC分站</text>
<text x="165.50" y="284.00" font-size="6.5" fill="#505050" font-family='"Liberation Sans",sans-serif' textLength="23.50" lengthAdjust="spacingAndGlyphs">(一二期)</text>
<rect x="229.6" y="228.9" width="8.6" height="8.2" rx="0.6" fill="#c42418"/><rect x="229.6" y="228.9" width="8.6" height="2.4" rx="0.6" fill="#e4604a"/><rect x="229.6" y="235.6" width="8.6" height="1.5" fill="#8a1a10"/>
<rect x="229.1" y="239" width="40.4" height="28" rx="0.8" fill="#97a7b7"/>
<rect x="229.1" y="239" width="40.4" height="1.6" fill="#6a7888"/><rect x="229.1" y="265.8" width="40.4" height="1.2" fill="#6f7d8c"/>
<rect x="231.0" y="242.4" width="7.2" height="13.2" rx="0.5" fill="#1e2a44"/><rect x="231.79999999999998" y="243.4" width="5.6" height="2" fill="#3aa060"/><rect x="231.79999999999998" y="247" width="5.6" height="6.5" fill="#b4b8e4"/>
<circle cx="234.6" cy="260.5" r="2.3" fill="none" stroke="#b8c4d0" stroke-width="0.8"/>
<rect x="241.20" y="242.8" width="3.4" height="21.5" fill="#cadaea" stroke="#7d8d9d" stroke-width="0.4"/>
<rect x="246.30" y="242.8" width="3.4" height="21.5" fill="#cadaea" stroke="#7d8d9d" stroke-width="0.4"/>
<rect x="251.40" y="242.8" width="3.4" height="21.5" fill="#cadaea" stroke="#7d8d9d" stroke-width="0.4"/>
<rect x="256.50" y="242.8" width="3.4" height="21.5" fill="#cadaea" stroke="#7d8d9d" stroke-width="0.4"/>
<rect x="261.60" y="242.8" width="3.4" height="21.5" fill="#cadaea" stroke="#7d8d9d" stroke-width="0.4"/>
<text x="229.50" y="275.20" font-size="6.5" fill="#333" font-weight="bold" font-family='"Liberation Sans",sans-serif' textLength="38.00" lengthAdjust="spacingAndGlyphs">D21-PLC分站</text>
<text x="218.75" y="284.00" font-size="6.5" fill="#505050" font-family='"Liberation Sans",sans-serif' textLength="58.75" lengthAdjust="spacingAndGlyphs">粗格栅及曝气沉砂池</text>
<rect x="301.75" y="228.9" width="8.6" height="8.2" rx="0.6" fill="#c42418"/><rect x="301.75" y="228.9" width="8.6" height="2.4" rx="0.6" fill="#e4604a"/><rect x="301.75" y="235.6" width="8.6" height="1.5" fill="#8a1a10"/>
<rect x="301.25" y="239" width="40.4" height="28" rx="0.8" fill="#97a7b7"/>
<rect x="301.25" y="239" width="40.4" height="1.6" fill="#6a7888"/><rect x="301.25" y="265.8" width="40.4" height="1.2" fill="#6f7d8c"/>
<rect x="303.15" y="242.4" width="7.2" height="13.2" rx="0.5" fill="#1e2a44"/><rect x="303.95" y="243.4" width="5.6" height="2" fill="#3aa060"/><rect x="303.95" y="247" width="5.6" height="6.5" fill="#b4b8e4"/>
<circle cx="306.75" cy="260.5" r="2.3" fill="none" stroke="#b8c4d0" stroke-width="0.8"/>
<rect x="313.35" y="242.8" width="3.4" height="21.5" fill="#cadaea" stroke="#7d8d9d" stroke-width="0.4"/>
<rect x="318.45" y="242.8" width="3.4" height="21.5" fill="#cadaea" stroke="#7d8d9d" stroke-width="0.4"/>
<rect x="323.55" y="242.8" width="3.4" height="21.5" fill="#cadaea" stroke="#7d8d9d" stroke-width="0.4"/>
<rect x="328.65" y="242.8" width="3.4" height="21.5" fill="#cadaea" stroke="#7d8d9d" stroke-width="0.4"/>
<rect x="333.75" y="242.8" width="3.4" height="21.5" fill="#cadaea" stroke="#7d8d9d" stroke-width="0.4"/>
<text x="304.50" y="275.20" font-size="6.5" fill="#333" font-weight="bold" font-family='"Liberation Sans",sans-serif' textLength="35.50" lengthAdjust="spacingAndGlyphs">M3-PLC分站</text>
<text x="302.00" y="284.00" font-size="6.5" fill="#505050" font-family='"Liberation Sans",sans-serif' textLength="39.25" lengthAdjust="spacingAndGlyphs">高密度沉淀池</text>
<rect x="375.5" y="228.9" width="8.6" height="8.2" rx="0.6" fill="#c42418"/><rect x="375.5" y="228.9" width="8.6" height="2.4" rx="0.6" fill="#e4604a"/><rect x="375.5" y="235.6" width="8.6" height="1.5" fill="#8a1a10"/>
<rect x="375" y="239" width="40.4" height="28" rx="0.8" fill="#97a7b7"/>
<rect x="375" y="239" width="40.4" height="1.6" fill="#6a7888"/><rect x="375" y="265.8" width="40.4" height="1.2" fill="#6f7d8c"/>
<rect x="376.9" y="242.4" width="7.2" height="13.2" rx="0.5" fill="#1e2a44"/><rect x="377.7" y="243.4" width="5.6" height="2" fill="#3aa060"/><rect x="377.7" y="247" width="5.6" height="6.5" fill="#b4b8e4"/>
<circle cx="380.5" cy="260.5" r="2.3" fill="none" stroke="#b8c4d0" stroke-width="0.8"/>
<rect x="387.10" y="242.8" width="3.4" height="21.5" fill="#cadaea" stroke="#7d8d9d" stroke-width="0.4"/>
<rect x="392.20" y="242.8" width="3.4" height="21.5" fill="#cadaea" stroke="#7d8d9d" stroke-width="0.4"/>
<rect x="397.30" y="242.8" width="3.4" height="21.5" fill="#cadaea" stroke="#7d8d9d" stroke-width="0.4"/>
<rect x="402.40" y="242.8" width="3.4" height="21.5" fill="#cadaea" stroke="#7d8d9d" stroke-width="0.4"/>
<rect x="407.50" y="242.8" width="3.4" height="21.5" fill="#cadaea" stroke="#7d8d9d" stroke-width="0.4"/>
<text x="378.00" y="275.20" font-size="6.5" fill="#333" font-weight="bold" font-family='"Liberation Sans",sans-serif' textLength="34.00" lengthAdjust="spacingAndGlyphs">H5-PLC分站</text>
<text x="383.75" y="284.00" font-size="6.5" fill="#505050" font-family='"Liberation Sans",sans-serif' textLength="23.50" lengthAdjust="spacingAndGlyphs">鼓风机房</text>
<rect x="449.25" y="228.9" width="8.6" height="8.2" rx="0.6" fill="#c42418"/><rect x="449.25" y="228.9" width="8.6" height="2.4" rx="0.6" fill="#e4604a"/><rect x="449.25" y="235.6" width="8.6" height="1.5" fill="#8a1a10"/>
<rect x="448.75" y="239" width="40.4" height="28" rx="0.8" fill="#97a7b7"/>
<rect x="448.75" y="239" width="40.4" height="1.6" fill="#6a7888"/><rect x="448.75" y="265.8" width="40.4" height="1.2" fill="#6f7d8c"/>
<rect x="450.65" y="242.4" width="7.2" height="13.2" rx="0.5" fill="#1e2a44"/><rect x="451.45" y="243.4" width="5.6" height="2" fill="#3aa060"/><rect x="451.45" y="247" width="5.6" height="6.5" fill="#b4b8e4"/>
<circle cx="454.25" cy="260.5" r="2.3" fill="none" stroke="#b8c4d0" stroke-width="0.8"/>
<rect x="460.85" y="242.8" width="3.4" height="21.5" fill="#cadaea" stroke="#7d8d9d" stroke-width="0.4"/>
<rect x="465.95" y="242.8" width="3.4" height="21.5" fill="#cadaea" stroke="#7d8d9d" stroke-width="0.4"/>
<rect x="471.05" y="242.8" width="3.4" height="21.5" fill="#cadaea" stroke="#7d8d9d" stroke-width="0.4"/>
<rect x="476.15" y="242.8" width="3.4" height="21.5" fill="#cadaea" stroke="#7d8d9d" stroke-width="0.4"/>
<rect x="481.25" y="242.8" width="3.4" height="21.5" fill="#cadaea" stroke="#7d8d9d" stroke-width="0.4"/>
<text x="452.00" y="275.20" font-size="6.5" fill="#333" font-weight="bold" font-family='"Liberation Sans",sans-serif' textLength="33.00" lengthAdjust="spacingAndGlyphs">T5-PLC分站</text>
<text x="455.00" y="284.00" font-size="6.5" fill="#505050" font-family='"Liberation Sans",sans-serif' textLength="26.25" lengthAdjust="spacingAndGlyphs">脱水机房</text>
<rect x="524.3" y="228.9" width="8.6" height="8.2" rx="0.6" fill="#c42418"/><rect x="524.3" y="228.9" width="8.6" height="2.4" rx="0.6" fill="#e4604a"/><rect x="524.3" y="235.6" width="8.6" height="1.5" fill="#8a1a10"/>
<rect x="523.8" y="239" width="40.4" height="28" rx="0.8" fill="#97a7b7"/>
<rect x="523.8" y="239" width="40.4" height="1.6" fill="#6a7888"/><rect x="523.8" y="265.8" width="40.4" height="1.2" fill="#6f7d8c"/>
<rect x="525.6999999999999" y="242.4" width="7.2" height="13.2" rx="0.5" fill="#1e2a44"/><rect x="526.5" y="243.4" width="5.6" height="2" fill="#3aa060"/><rect x="526.5" y="247" width="5.6" height="6.5" fill="#b4b8e4"/>
<circle cx="529.3" cy="260.5" r="2.3" fill="none" stroke="#b8c4d0" stroke-width="0.8"/>
<rect x="535.90" y="242.8" width="3.4" height="21.5" fill="#cadaea" stroke="#7d8d9d" stroke-width="0.4"/>
<rect x="541.00" y="242.8" width="3.4" height="21.5" fill="#cadaea" stroke="#7d8d9d" stroke-width="0.4"/>
<rect x="546.10" y="242.8" width="3.4" height="21.5" fill="#cadaea" stroke="#7d8d9d" stroke-width="0.4"/>
<rect x="551.20" y="242.8" width="3.4" height="21.5" fill="#cadaea" stroke="#7d8d9d" stroke-width="0.4"/>
<rect x="556.30" y="242.8" width="3.4" height="21.5" fill="#cadaea" stroke="#7d8d9d" stroke-width="0.4"/>
<text x="526.00" y="275.20" font-size="6.5" fill="#333" font-weight="bold" font-family='"Liberation Sans",sans-serif' textLength="38.30" lengthAdjust="spacingAndGlyphs">M41-PLC分站</text>
<text x="524.60" y="284.00" font-size="6.5" fill="#505050" font-family='"Liberation Sans",sans-serif' textLength="39.00" lengthAdjust="spacingAndGlyphs">1#膜室控制室</text>
<rect x="599.9" y="228.9" width="8.6" height="8.2" rx="0.6" fill="#c42418"/><rect x="599.9" y="228.9" width="8.6" height="2.4" rx="0.6" fill="#e4604a"/><rect x="599.9" y="235.6" width="8.6" height="1.5" fill="#8a1a10"/>
<rect x="599.4" y="239" width="40.4" height="28" rx="0.8" fill="#97a7b7"/>
<rect x="599.4" y="239" width="40.4" height="1.6" fill="#6a7888"/><rect x="599.4" y="265.8" width="40.4" height="1.2" fill="#6f7d8c"/>
<rect x="601.3" y="242.4" width="7.2" height="13.2" rx="0.5" fill="#1e2a44"/><rect x="602.1" y="243.4" width="5.6" height="2" fill="#3aa060"/><rect x="602.1" y="247" width="5.6" height="6.5" fill="#b4b8e4"/>
<circle cx="604.9" cy="260.5" r="2.3" fill="none" stroke="#b8c4d0" stroke-width="0.8"/>
<rect x="611.50" y="242.8" width="3.4" height="21.5" fill="#cadaea" stroke="#7d8d9d" stroke-width="0.4"/>
<rect x="616.60" y="242.8" width="3.4" height="21.5" fill="#cadaea" stroke="#7d8d9d" stroke-width="0.4"/>
<rect x="621.70" y="242.8" width="3.4" height="21.5" fill="#cadaea" stroke="#7d8d9d" stroke-width="0.4"/>
<rect x="626.80" y="242.8" width="3.4" height="21.5" fill="#cadaea" stroke="#7d8d9d" stroke-width="0.4"/>
<rect x="631.90" y="242.8" width="3.4" height="21.5" fill="#cadaea" stroke="#7d8d9d" stroke-width="0.4"/>
<text x="602.50" y="275.20" font-size="6.5" fill="#333" font-weight="bold" font-family='"Liberation Sans",sans-serif' textLength="38.00" lengthAdjust="spacingAndGlyphs">M42-PLC分站</text>
<text x="602.00" y="284.00" font-size="6.5" fill="#505050" font-family='"Liberation Sans",sans-serif' textLength="38.00" lengthAdjust="spacingAndGlyphs">2#膜室控制室</text>
<rect x="674.5" y="228.9" width="8.6" height="8.2" rx="0.6" fill="#c42418"/><rect x="674.5" y="228.9" width="8.6" height="2.4" rx="0.6" fill="#e4604a"/><rect x="674.5" y="235.6" width="8.6" height="1.5" fill="#8a1a10"/>
<rect x="674" y="239" width="40.4" height="28" rx="0.8" fill="#97a7b7"/>
<rect x="674" y="239" width="40.4" height="1.6" fill="#6a7888"/><rect x="674" y="265.8" width="40.4" height="1.2" fill="#6f7d8c"/>
<rect x="675.9" y="242.4" width="7.2" height="13.2" rx="0.5" fill="#1e2a44"/><rect x="676.7" y="243.4" width="5.6" height="2" fill="#3aa060"/><rect x="676.7" y="247" width="5.6" height="6.5" fill="#b4b8e4"/>
<circle cx="679.5" cy="260.5" r="2.3" fill="none" stroke="#b8c4d0" stroke-width="0.8"/>
<rect x="686.10" y="242.8" width="3.4" height="21.5" fill="#cadaea" stroke="#7d8d9d" stroke-width="0.4"/>
<rect x="691.20" y="242.8" width="3.4" height="21.5" fill="#cadaea" stroke="#7d8d9d" stroke-width="0.4"/>
<rect x="696.30" y="242.8" width="3.4" height="21.5" fill="#cadaea" stroke="#7d8d9d" stroke-width="0.4"/>
<rect x="701.40" y="242.8" width="3.4" height="21.5" fill="#cadaea" stroke="#7d8d9d" stroke-width="0.4"/>
<rect x="706.50" y="242.8" width="3.4" height="21.5" fill="#cadaea" stroke="#7d8d9d" stroke-width="0.4"/>
<text x="674.50" y="275.20" font-size="6.5" fill="#333" font-weight="bold" font-family='"Liberation Sans",sans-serif' textLength="35.00" lengthAdjust="spacingAndGlyphs">P-PLC分站</text>
<text x="674.50" y="284.00" font-size="6.5" fill="#505050" font-family='"Liberation Sans",sans-serif' textLength="39.25" lengthAdjust="spacingAndGlyphs">中央送水泵房</text>
<rect x="315.6" y="292.50" width="21.7" height="16" rx="0.9" fill="#3d3f3d" stroke="#1a1a1a" stroke-width="0.7"/>
<text x="303.46" y="315.70" font-size="6.45" fill="#4a4a4a" font-family='"Liberation Sans",sans-serif' textLength="45.87" lengthAdjust="spacingAndGlyphs">除臭电控单元03</text>
<rect x="315.6" y="316.75" width="21.7" height="16" rx="0.9" fill="#3d3f3d" stroke="#1a1a1a" stroke-width="0.7"/>
<text x="297.01" y="339.95" font-size="6.45" fill="#4a4a4a" font-family='"Liberation Sans",sans-serif' textLength="58.77" lengthAdjust="spacingAndGlyphs">制药系统电控单元01</text>
<rect x="315.6" y="341.00" width="21.7" height="16" rx="0.9" fill="#3d3f3d" stroke="#1a1a1a" stroke-width="0.7"/>
<text x="297.01" y="364.20" font-size="6.45" fill="#4a4a4a" font-family='"Liberation Sans",sans-serif' textLength="58.77" lengthAdjust="spacingAndGlyphs">制药系统电控单元02</text>
<rect x="315.6" y="365.25" width="21.7" height="16" rx="0.9" fill="#3d3f3d" stroke="#1a1a1a" stroke-width="0.7"/>
<text x="290.92" y="388.45" font-size="6.45" fill="#4a4a4a" font-family='"Liberation Sans",sans-serif' textLength="70.95" lengthAdjust="spacingAndGlyphs">紫外线消毒系统电控单元</text>
<rect x="315.6" y="389.50" width="21.7" height="16" rx="0.9" fill="#3d3f3d" stroke="#1a1a1a" stroke-width="0.7"/>
<text x="292.71" y="412.70" font-size="6.45" fill="#4a4a4a" font-family='"Liberation Sans",sans-serif' textLength="67.37" lengthAdjust="spacingAndGlyphs">电力监控系统通讯柜-01</text>
<rect x="315.6" y="413.75" width="21.7" height="16" rx="0.9" fill="#3d3f3d" stroke="#1a1a1a" stroke-width="0.7"/>
<text x="298.09" y="436.95" font-size="6.45" fill="#4a4a4a" font-family='"Liberation Sans",sans-serif' textLength="56.63" lengthAdjust="spacingAndGlyphs">鼓风机房MCP01-02</text>
<rect x="458.4" y="314.80" width="21.7" height="16" rx="0.9" fill="#3d3f3d" stroke="#1a1a1a" stroke-width="0.7"/>
<text x="438.99" y="337.80" font-size="6.45" fill="#4a4a4a" font-family='"Liberation Sans",sans-serif' textLength="65.22" lengthAdjust="spacingAndGlyphs">离心脱水机电控单元01</text>
<rect x="458.4" y="339.35" width="21.7" height="16" rx="0.9" fill="#3d3f3d" stroke="#1a1a1a" stroke-width="0.7"/>
<text x="438.99" y="362.35" font-size="6.45" fill="#4a4a4a" font-family='"Liberation Sans",sans-serif' textLength="65.22" lengthAdjust="spacingAndGlyphs">离心脱水机电控单元02</text>
<rect x="458.4" y="363.90" width="21.7" height="16" rx="0.9" fill="#3d3f3d" stroke="#1a1a1a" stroke-width="0.7"/>
<text x="438.99" y="386.90" font-size="6.45" fill="#4a4a4a" font-family='"Liberation Sans",sans-serif' textLength="65.22" lengthAdjust="spacingAndGlyphs">离心脱水机电控单元03</text>
<rect x="458.4" y="388.45" width="21.7" height="16" rx="0.9" fill="#3d3f3d" stroke="#1a1a1a" stroke-width="0.7"/>
<text x="438.99" y="411.45" font-size="6.45" fill="#4a4a4a" font-family='"Liberation Sans",sans-serif' textLength="65.22" lengthAdjust="spacingAndGlyphs">离心脱水机电控单元04</text>
<rect x="458.4" y="413.00" width="21.7" height="16" rx="0.9" fill="#3d3f3d" stroke="#1a1a1a" stroke-width="0.7"/>
<text x="438.99" y="436.00" font-size="6.45" fill="#4a4a4a" font-family='"Liberation Sans",sans-serif' textLength="65.22" lengthAdjust="spacingAndGlyphs">离心脱水机电控单元05</text>
<rect x="548.6" y="294.40" width="21.7" height="16" rx="0.9" fill="#3d3f3d" stroke="#1a1a1a" stroke-width="0.7"/>
<text x="528.89" y="317.50" font-size="6.45" fill="#4a4a4a" font-family='"Liberation Sans",sans-serif' textLength="65.22" lengthAdjust="spacingAndGlyphs">离心脱水机电控单元06</text>
<rect x="548.6" y="318.30" width="21.7" height="16" rx="0.9" fill="#3d3f3d" stroke="#1a1a1a" stroke-width="0.7"/>
<text x="528.89" y="341.40" font-size="6.45" fill="#4a4a4a" font-family='"Liberation Sans",sans-serif' textLength="65.22" lengthAdjust="spacingAndGlyphs">离心脱水机电控单元07</text>
<rect x="548.6" y="342.20" width="21.7" height="16" rx="0.9" fill="#3d3f3d" stroke="#1a1a1a" stroke-width="0.7"/>
<text x="528.89" y="365.30" font-size="6.45" fill="#4a4a4a" font-family='"Liberation Sans",sans-serif' textLength="65.22" lengthAdjust="spacingAndGlyphs">离心脱水机电控单元08</text>
<rect x="548.6" y="366.10" width="21.7" height="16" rx="0.9" fill="#3d3f3d" stroke="#1a1a1a" stroke-width="0.7"/>
<text x="528.89" y="389.20" font-size="6.45" fill="#4a4a4a" font-family='"Liberation Sans",sans-serif' textLength="65.22" lengthAdjust="spacingAndGlyphs">离心脱水机电控单元09</text>
<rect x="548.6" y="390.00" width="21.7" height="16" rx="0.9" fill="#3d3f3d" stroke="#1a1a1a" stroke-width="0.7"/>
<text x="528.89" y="413.10" font-size="6.45" fill="#4a4a4a" font-family='"Liberation Sans",sans-serif' textLength="65.22" lengthAdjust="spacingAndGlyphs">离心脱水机电控单元10</text>
<rect x="548.6" y="413.90" width="21.7" height="16" rx="0.9" fill="#3d3f3d" stroke="#1a1a1a" stroke-width="0.7"/>
<text x="525.66" y="437.00" font-size="6.45" fill="#4a4a4a" font-family='"Liberation Sans",sans-serif' textLength="71.67" lengthAdjust="spacingAndGlyphs">脱水机房共用电控单元10</text>
<rect x="685.9" y="292.70" width="21.7" height="16" rx="0.9" fill="#3d3f3d" stroke="#1a1a1a" stroke-width="0.7"/>
<text x="666.20" y="315.30" font-size="6.45" fill="#4a4a4a" font-family='"Liberation Sans",sans-serif' textLength="66.00" lengthAdjust="spacingAndGlyphs">电力监控系统通讯柜-02</text>
<rect x="685.9" y="317.70" width="21.7" height="16" rx="0.9" fill="#3d3f3d" stroke="#1a1a1a" stroke-width="0.7"/>
<text x="669.30" y="339.90" font-size="6.45" fill="#4a4a4a" font-family='"Liberation Sans",sans-serif' textLength="59.20" lengthAdjust="spacingAndGlyphs">除臭系统电控装置01</text>
<clipPath id="cc"><rect x="93.4" y="220" width="30" height="40"/></clipPath>
<circle cx="102.1" cy="239.8" r="11.8" fill="#fff000" clip-path="url(#cc)" style="mix-blend-mode:multiply"/>
<path d="M101,240.4 L101,247.6 L102.7,246.1 L104,248.6 L105.1,248.1 L103.9,245.6 L106.2,245.4 Z" fill="#e8e8e8" stroke="#444" stroke-width="0.5"/>
<text x="639.60" y="432.00" font-size="19.5" fill="#fff" font-weight="bold" font-family='"Liberation Sans",sans-serif' textLength="146.50" lengthAdjust="spacingAndGlyphs" stroke="#fff" stroke-width="2">头条 @华东工控</text>
<text x="639.60" y="432.00" font-size="19.5" fill="#222" font-weight="bold" font-family='"Liberation Sans",sans-serif' textLength="146.50" lengthAdjust="spacingAndGlyphs" stroke="#222" stroke-width="0.5">头条 @华东工控</text>
</svg></body></html>
